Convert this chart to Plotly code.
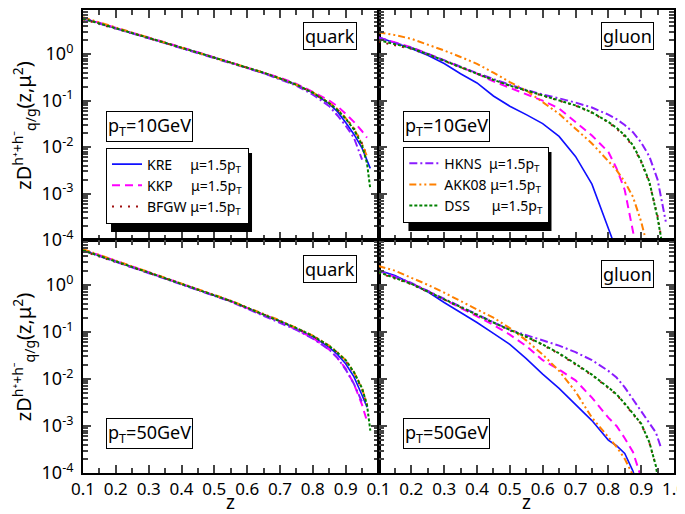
import plotly.graph_objects as go
from plotly.subplots import make_subplots

# ---------------- data ----------------
ZQ = [0.1, 0.15, 0.2, 0.25, 0.3, 0.35, 0.4, 0.45, 0.5, 0.55, 0.6, 0.65, 0.7, 0.75, 0.8,
      0.85, 0.875, 0.9, 0.925, 0.95, 0.965, 0.975]
ZG_TOP = [0.1, 0.15, 0.2, 0.25, 0.3, 0.35, 0.4, 0.45, 0.5, 0.55, 0.6, 0.65, 0.7, 0.75, 0.8,
          0.825, 0.85, 0.875, 0.9, 0.925, 0.95, 0.975]
ZG_BOT = [0.1, 0.15, 0.2, 0.25, 0.3, 0.35, 0.4, 0.45, 0.5, 0.55, 0.6, 0.65, 0.7, 0.75, 0.8,
          0.825, 0.85, 0.875, 0.9, 0.925, 0.945, 0.96]

# quark, pT = 10 GeV
Q10_KRE = [5.9, 4.7, 3.6, 2.85, 2.24, 1.76, 1.38, 1.08, 0.85, 0.66, 0.51, 0.40, 0.30, 0.22, 0.148, 0.085, 0.058, 0.034, 0.019, 0.0095, 0.005, 0.0035]
Q10_KKP = [6.0, 4.8, 3.7, 2.9, 2.3, 1.8, 1.40, 1.10, 0.86, 0.67, 0.52, 0.41, 0.31, 0.23, 0.155, 0.10, 0.076, 0.052, 0.035, 0.022, 0.016, None]
Q10_BFGW = [5.6, 4.5, 3.5, 2.8, 2.2, 1.74, 1.36, 1.07, 0.84, 0.66, 0.51, 0.40, 0.30, 0.22, 0.148, 0.088, 0.064, 0.042, 0.026, 0.012, 0.0063, None]
Q10_HKNS = [5.8, 4.6, 3.55, 2.8, 2.2, 1.73, 1.35, 1.05, 0.83, 0.64, 0.50, 0.39, 0.29, 0.21, 0.135, 0.076, 0.048, 0.029, 0.016, 0.0054, None, None]
Q10_AKK08 = [6.2, 4.8, 3.65, 2.85, 2.24, 1.76, 1.38, 1.08, 0.85, 0.66, 0.51, 0.40, 0.30, 0.22, 0.15, 0.09, 0.066, 0.042, 0.025, 0.0115, 0.0063, None]
Q10_DSS = [5.8, 4.6, 3.6, 2.85, 2.24, 1.76, 1.38, 1.08, 0.85, 0.66, 0.51, 0.40, 0.30, 0.22, 0.148, 0.088, 0.063, 0.041, 0.024, 0.011, 0.0045, 0.00126]

# quark, pT = 50 GeV
Q50_KRE = [5.4, 4.2, 3.16, 2.4, 1.82, 1.38, 1.05, 0.79, 0.60, 0.45, 0.32, 0.23, 0.17, 0.117, 0.079, 0.047, 0.033, 0.021, 0.0112, 0.0045, 0.0025, None]
Q50_KKP = [5.6, 4.3, 3.2, 2.45, 1.85, 1.4, 1.06, 0.80, 0.60, 0.45, 0.32, 0.23, 0.165, 0.112, 0.074, 0.042, 0.028, 0.0166, 0.0079, 0.0028, 0.00126, None]
Q50_BFGW = [5.2, 4.0, 3.05, 2.35, 1.8, 1.37, 1.05, 0.79, 0.60, 0.45, 0.325, 0.235, 0.172, 0.12, 0.082, 0.05, 0.036, 0.024, 0.0135, 0.006, 0.0027, None]
Q50_HKNS = [5.4, 4.1, 3.1, 2.35, 1.78, 1.35, 1.03, 0.78, 0.59, 0.44, 0.31, 0.22, 0.16, 0.11, 0.072, 0.042, 0.028, 0.0158, 0.0079, 0.0032, None, None]
Q50_AKK08 = [5.7, 4.3, 3.2, 2.42, 1.83, 1.39, 1.06, 0.80, 0.61, 0.46, 0.33, 0.24, 0.175, 0.121, 0.083, 0.051, 0.037, 0.025, 0.014, 0.0063, 0.0028, None]
Q50_DSS = [5.4, 4.15, 3.15, 2.4, 1.82, 1.38, 1.05, 0.79, 0.60, 0.45, 0.325, 0.235, 0.172, 0.12, 0.082, 0.05, 0.036, 0.025, 0.014, 0.0063, 0.0028, 0.0008]

# gluon, pT = 10 GeV
G10_KRE = [2.3, 1.74, 1.32, 0.95, 0.63, 0.38, 0.24, 0.126, 0.076, 0.05, 0.032, 0.017, 0.0063, 0.0016, 0.00018, 0.00006, None, None, None, None, None, None]
G10_KKP = [2.3, 1.78, 1.41, 1.02, 0.74, 0.54, 0.38, 0.26, 0.19, 0.141, 0.10, 0.068, 0.035, 0.0178, 0.0079, 0.0035, 0.0012, 0.00012, 0.00002, None, None, None]
G10_BFGW = [1.86, 1.55, 1.3, 0.98, 0.71, 0.52, 0.38, 0.28, 0.21, 0.165, 0.128, 0.10, 0.078, 0.055, 0.034, 0.025, 0.017, 0.0105, 0.0048, 0.0017, 0.00033, 0.00003]
G10_HKNS = [2.3, 1.74, 1.38, 1.02, 0.74, 0.54, 0.39, 0.29, 0.22, 0.17, 0.135, 0.112, 0.091, 0.071, 0.05, 0.04, 0.030, 0.021, 0.0126, 0.0063, 0.002, 0.00025]
G10_AKK08 = [2.95, 2.57, 2.14, 1.62, 1.2, 0.87, 0.62, 0.40, 0.25, 0.166, 0.093, 0.052, 0.025, 0.012, 0.005, 0.0032, 0.0018, 0.00085, 0.00025, 0.00005, None, None]
G10_DSS = [2.0, 1.66, 1.35, 1.0, 0.72, 0.52, 0.38, 0.28, 0.21, 0.166, 0.129, 0.102, 0.079, 0.056, 0.035, 0.026, 0.018, 0.011, 0.005, 0.0018, 0.0003, 0.00003]

# gluon, pT = 50 GeV
G50_KRE = [2.04, 1.58, 1.07, 0.71, 0.42, 0.26, 0.158, 0.093, 0.054, 0.027, 0.0126, 0.0063, 0.0029, 0.0013, 0.0005, 0.00038, 0.00026, 0.00011, 0.00003, None, None, None]
G50_KKP = [2.0, 1.48, 1.07, 0.74, 0.49, 0.33, 0.21, 0.141, 0.087, 0.05, 0.025, 0.0158, 0.0093, 0.004, 0.0015, 0.001, 0.00055, 0.00028, 0.00008, 0.00002, None, None]
G50_BFGW = [1.8, 1.38, 1.03, 0.71, 0.48, 0.335, 0.228, 0.156, 0.108, 0.078, 0.053, 0.034, 0.0205, 0.012, 0.0064, 0.0046, 0.0029, 0.0018, 0.0011, 0.00044, 0.00014, None]
G50_HKNS = [2.0, 1.5, 1.1, 0.74, 0.5, 0.345, 0.235, 0.16, 0.11, 0.085, 0.066, 0.051, 0.037, 0.025, 0.0148, 0.0107, 0.0066, 0.0037, 0.002, 0.00117, 0.00072, 0.00035]
G50_AKK08 = [2.5, 2.0, 1.41, 1.0, 0.68, 0.46, 0.30, 0.2, 0.12, 0.066, 0.033, 0.0148, 0.0054, 0.0015, 0.00058, 0.00036, 0.0002, 0.00009, 0.00003, None, None, None]
G50_DSS = [1.86, 1.41, 1.05, 0.72, 0.49, 0.34, 0.23, 0.158, 0.11, 0.079, 0.054, 0.035, 0.021, 0.0123, 0.0066, 0.0047, 0.003, 0.00186, 0.00112, 0.00045, 0.00014, 0.00003]

SETS = ["KRE", "KKP", "BFGW", "HKNS", "AKK08", "DSS"]
X_TICKS = [0.1, 0.2, 0.3, 0.4, 0.5, 0.6, 0.7, 0.8, 0.9, 1.0]
X_LABELS = ["0.1", "0.2", "0.3", "0.4", "0.5", "0.6", "0.7", "0.8", "0.9", "1.0"]
Y_TICKS = [1e-4, 1e-3, 1e-2, 1e-1, 1]
Y_LABELS = ["10<sup>-4</sup>", "10<sup>-3</sup>", "10<sup>-2</sup>", "10<sup>-1</sup>", "10<sup>0</sup>"]

PANELS = [
    (1, 1, ZQ, [Q10_KRE, Q10_KKP, Q10_BFGW, Q10_HKNS, Q10_AKK08, Q10_DSS]),
    (1, 2, ZG_TOP, [G10_KRE, G10_KKP, G10_BFGW, G10_HKNS, G10_AKK08, G10_DSS]),
    (2, 1, ZQ, [Q50_KRE, Q50_KKP, Q50_BFGW, Q50_HKNS, Q50_AKK08, Q50_DSS]),
    (2, 2, ZG_BOT, [G50_KRE, G50_KKP, G50_BFGW, G50_HKNS, G50_AKK08, G50_DSS]),
]

# ---------------- styles ----------------
NB = "\u00a0"
STYLE = {
    "KRE": dict(color="#1010ff", dash="solid", width=1.6),
    "KKP": dict(color="#ff00ff", dash="8px,5px", width=2),
    "BFGW": dict(color="#a01010", dash="2px,6px", width=2),
    "HKNS": dict(color="#8a1cff", dash="8px,3px,2px,3px", width=2),
    "AKK08": dict(color="#ff8000", dash="7px,3px,2px,3px,2px,3px", width=2),
    "DSS": dict(color="#008000", dash="3px,2px", width=2),
}
MU = "\u03bc=1.5p<sub>T</sub>"
LABEL = {
    "KRE": "KRE" + NB * 5 + MU,
    "KKP": "KKP" + NB * 5 + MU,
    "BFGW": "BFGW" + NB * 1 + MU,
    "HKNS": "HKNS" + NB * 2 + MU,
    "AKK08": "AKK08" + NB * 1 + MU,
    "DSS": "DSS" + NB * 6 + MU,
}
LEG_A = ["KRE", "KKP", "BFGW"]
LEG_B = ["HKNS", "AKK08", "DSS"]

fig = make_subplots(rows=2, cols=2, horizontal_spacing=0, vertical_spacing=0)

for row, col, zgrid, series in PANELS:
    for name, vals in zip(SETS, series):
        st = STYLE[name]
        in_leg1 = (row == 1 and col == 1 and name in LEG_A)
        in_leg2 = (row == 1 and col == 2 and name in LEG_B)
        fig.add_trace(
            go.Scatter(
                x=zgrid, y=vals, mode="lines", name=LABEL[name],
                line=dict(color=st["color"], dash=st["dash"], width=st["width"]),
                showlegend=in_leg1 or in_leg2,
                legend="legend2" if in_leg2 else "legend",
                hoverinfo="skip",
            ),
            row=row, col=col,
        )

Y_SPLIT = 0.503
minor_y = [m * 10.0 ** k for k in range(-4, 1) for m in range(2, 10)]
minor_x = [0.15, 0.25, 0.35, 0.45, 0.55, 0.65, 0.75, 0.85, 0.95]

for row in (1, 2):
    for col in (1, 2):
        xt = X_TICKS if col == 2 else X_TICKS[:-1]
        xl = X_LABELS if col == 2 else X_LABELS[:-1]
        fig.update_xaxes(
            range=[0.1, 1.0], tickmode="array", tickvals=xt, ticktext=xl,
            showticklabels=(row == 2), ticks="inside", ticklen=8, tickwidth=2,
            showline=True, linewidth=2, linecolor="black", mirror="ticks",
            showgrid=False, zeroline=False, ticklabelstandoff=0, automargin=False,
            tickfont=dict(size=17),
            minor=dict(ticks="inside", ticklen=5, tickwidth=1.5, tickvals=minor_x, showgrid=False),
            domain=[0, 0.5] if col == 1 else [0.5, 1.0],
            row=row, col=col,
        )
        fig.update_yaxes(
            type="log", range=[-4, 0.95], tickmode="array", tickvals=Y_TICKS, ticktext=Y_LABELS,
            showticklabels=(col == 1), ticks="inside", ticklen=8, tickwidth=2,
            showline=True, linewidth=2, linecolor="black", mirror="ticks",
            showgrid=False, zeroline=False, ticklabelstandoff=4, automargin=False,
            tickfont=dict(size=18),
            minor=dict(ticks="inside", ticklen=5, tickwidth=1.5, tickvals=minor_y, showgrid=False),
            domain=[Y_SPLIT, 1.0] if row == 1 else [0, Y_SPLIT],
            row=row, col=col,
        )

ann = []
def box(text, x, y, xanchor, yanchor="top"):
    ann.append(dict(text=text, x=x, y=y, xref="paper", yref="paper", xanchor=xanchor,
                    yanchor=yanchor, showarrow=False, font=dict(size=18),
                    bordercolor="black", borderwidth=1, borderpad=1, bgcolor="white"))

box("quark", 0.4636, 0.974, "right")
box("gluon", 0.966, 0.974, "right")
box("quark", 0.4636, 0.47, "right")
box("gluon", 0.966, 0.46, "right")
box("p<sub>T</sub>=10GeV", 0.0389, 0.781, "left")
box("p<sub>T</sub>=10GeV", 0.542, 0.781, "left")
box("p<sub>T</sub>=50GeV", 0.0389, 0.118, "left")
box("p<sub>T</sub>=50GeV", 0.542, 0.118, "left")

YTITLE = "zD<sup>h\u207a+h\u207b</sup><sub>q/g</sub>(z,\u03bc<sup>2</sup>)"
for yc in (0.752, 0.252):
    ann.append(dict(text=YTITLE, x=-0.1, y=yc, xref="paper", yref="paper",
                    xanchor="center", yanchor="middle", textangle=-90, showarrow=False,
                    font=dict(size=20)))
for xc in (0.25, 0.75):
    ann.append(dict(text="z", x=xc, y=-0.095, xref="paper", yref="paper",
                    xanchor="center", yanchor="bottom", showarrow=False, font=dict(size=19)))

# legend drop shadows (black boxes offset by 5 px behind each legend)
shapes = [
    dict(type="rect", xref="paper", yref="paper", x0=0.0474, x1=0.286, y0=0.5205, y1=0.691,
         fillcolor="black", line=dict(width=0), layer="above"),
    dict(type="rect", xref="paper", yref="paper", x0=0.5507, x1=0.7927, y0=0.5227, y1=0.6933,
         fillcolor="black", line=dict(width=0), layer="above"),
]

leg_common = dict(xanchor="left", yanchor="top", borderwidth=1, bgcolor="white",
                  bordercolor="black", font=dict(size=14), itemwidth=30, tracegroupgap=0)
fig.update_layout(
    width=685, height=514,
    margin=dict(l=75, r=19, t=2, b=49),
    plot_bgcolor="white", paper_bgcolor="white",
    font=dict(family="Noto Sans", size=18, color="black"),
    legend=dict(x=0.0389, y=0.703, **leg_common),
    legend2=dict(x=0.542, y=0.705, **leg_common),
    annotations=ann,
    shapes=shapes,
)

fig.write_html("out.html")
